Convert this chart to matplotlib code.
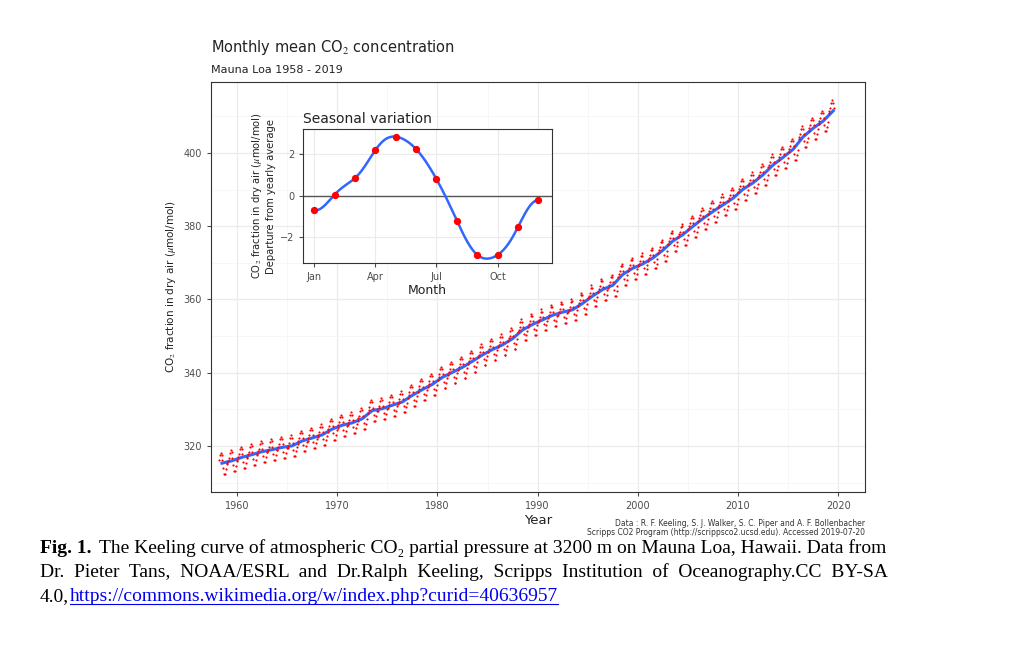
import numpy as np
import matplotlib.pyplot as plt

plt.rcParams['mathtext.fontset'] = 'stix'

years = np.arange(1958, 2020)
annual_mean = [315.3, 315.98, 316.91, 317.64, 318.45, 318.99, 319.62, 320.04, 321.37, 322.18,
               323.05, 324.62, 325.68, 326.32, 327.46, 329.68, 330.19, 331.13, 332.03, 333.84,
               335.41, 336.84, 338.76, 340.12, 341.48, 343.15, 344.87, 346.35, 347.61, 349.31,
               351.69, 353.20, 354.45, 355.70, 356.54, 357.21, 358.96, 360.97, 362.74, 363.88,
               366.84, 368.54, 369.71, 371.32, 373.45, 375.98, 377.70, 379.98, 382.09, 384.02,
               385.83, 387.64, 390.10, 391.85, 394.06, 396.74, 398.81, 401.01, 404.41, 406.76,
               408.72, 411.5]
months = np.arange(1, 13)
month_labels = ['Jan', 'Apr', 'Jul', 'Oct']
seasonal = [-0.7, 0.05, 0.85, 2.2, 2.85, 2.25, 0.8, -1.2, -2.85, -2.85, -1.5, -0.2]

# monthly points: yearly mean plus seasonal departure (Mar 1958 - Jul 2019)
mx, my = [], []
for y, a in zip(years, annual_mean):
    for m, s in zip(months, seasonal):
        if (y == 1958 and m < 3) or (y == 2019 and m > 7):
            continue
        mx.append(y + (m - 0.5) / 12)
        my.append(a + s)

fig = plt.figure(figsize=(10.24, 6.45), dpi=100)
grey = '#4d4d4d'

ax = fig.add_axes([0.206, 0.237, 0.639, 0.636])
ax.scatter(mx, my, s=2.5, color='red', zorder=3, linewidths=0)
ax.plot(years + 0.5, annual_mean, color='#3366ff', lw=2.2, zorder=2)
ax.set_xlim(1957.4, 2022.7)
ax.set_ylim(307.4, 419.4)
ax.set_xticks(range(1960, 2021, 10))
ax.set_xticks(range(1965, 2021, 10), minor=True)
ax.set_yticks(range(320, 401, 20))
ax.set_yticks(range(310, 420, 20), minor=True)
ax.grid(which='major', color='#ebebeb', lw=0.9)
ax.grid(which='minor', color='#f4f4f4', lw=0.5)
ax.set_axisbelow(True)
ax.tick_params(which='both', labelsize=7, colors=grey, length=3)
ax.tick_params(which='minor', length=0)
for sp in ax.spines.values():
    sp.set_color('#333333')
    sp.set_linewidth(0.8)
ax.set_xlabel('Year', fontsize=9.5, color='#222222', labelpad=2)
ax.set_ylabel(r'CO$_2$ fraction in dry air ($\mu$mol/mol)', fontsize=7.5, color='#222222', labelpad=4)

fig.text(0.206, 0.920, r'Monthly mean CO$_2$ concentration', fontsize=10.5, color='#222222')
fig.text(0.206, 0.887, 'Mauna Loa 1958 - 2019', fontsize=8, color='#222222')
fig.text(0.845, 0.168, 'Data : R. F. Keeling, S. J. Walker, S. C. Piper and A. F. Bollenbacher\n'
         'Scripps CO2 Program (http://scrippsco2.ucsd.edu). Accessed 2019-07-20',
         fontsize=5.5, color='#333333', ha='right', va='bottom', linespacing=1.0)

# inset
ins = fig.add_axes([0.296, 0.592, 0.243, 0.208])
# smooth periodic curve through the 12 monthly values
c = np.fft.rfft(seasonal)
t = np.linspace(0, 11, 300)
curve = np.real(sum(c[k] * np.exp(2j * np.pi * k * t / 12) * (1 if k in (0, 6) else 2)
                    for k in range(7))) / 12
ins.plot(t + 1, curve, color='#3366ff', lw=1.8, zorder=2)
ins.scatter(months, seasonal, s=18, color='red', zorder=3)
ins.axhline(0, color='#555555', lw=1, zorder=1)
ins.set_xlim(0.46, 12.66)
ins.set_ylim(-3.25, 3.22)
ins.set_xticks([1, 4, 7, 10])
ins.set_xticklabels(month_labels)
ins.set_yticks([-2, 0, 2])
ins.grid(color='#ebebeb', lw=0.8)
ins.set_axisbelow(True)
ins.tick_params(labelsize=7, colors=grey, length=3)
for sp in ins.spines.values():
    sp.set_color('#333333')
ins.set_title('Seasonal variation', fontsize=10, loc='left', color='#222222', pad=4)
ins.set_xlabel('Month', fontsize=9, color='#222222', labelpad=1)
ins.set_ylabel('CO$_2$ fraction in dry air ($\\mu$mol/mol)\nDeparture from yearly average',
               fontsize=7.2, color='#222222', labelpad=3)

# caption
cap = dict(fontsize=14, fontfamily='Liberation Serif', color='black')
fig.text(0.039, 0.142, 'Fig. 1.', fontweight='bold', **cap)
fig.text(0.097, 0.142, 'The Keeling curve of atmospheric CO\u2082 partial pressure at 3200 m on Mauna Loa, Hawaii. Data from', **cap)
fig.text(0.039, 0.105, 'Dr.  Pieter  Tans,  NOAA/ESRL  and  Dr.Ralph  Keeling,  Scripps  Institution  of  Oceanography.CC  BY-SA', **cap)
fig.text(0.039, 0.068, '4.0,', **cap)
link = fig.text(0.068, 0.068, 'https://commons.wikimedia.org/w/index.php?curid=40636957', color='#0000ee',
                fontsize=14, fontfamily='Liberation Serif')
fig.canvas.draw()
bb = link.get_window_extent().transformed(fig.transFigure.inverted())
fig.add_artist(plt.Line2D([bb.x0, bb.x1], [0.064, 0.064], color='#0000ee', lw=0.8))

fig.savefig('out.png', dpi=100)
